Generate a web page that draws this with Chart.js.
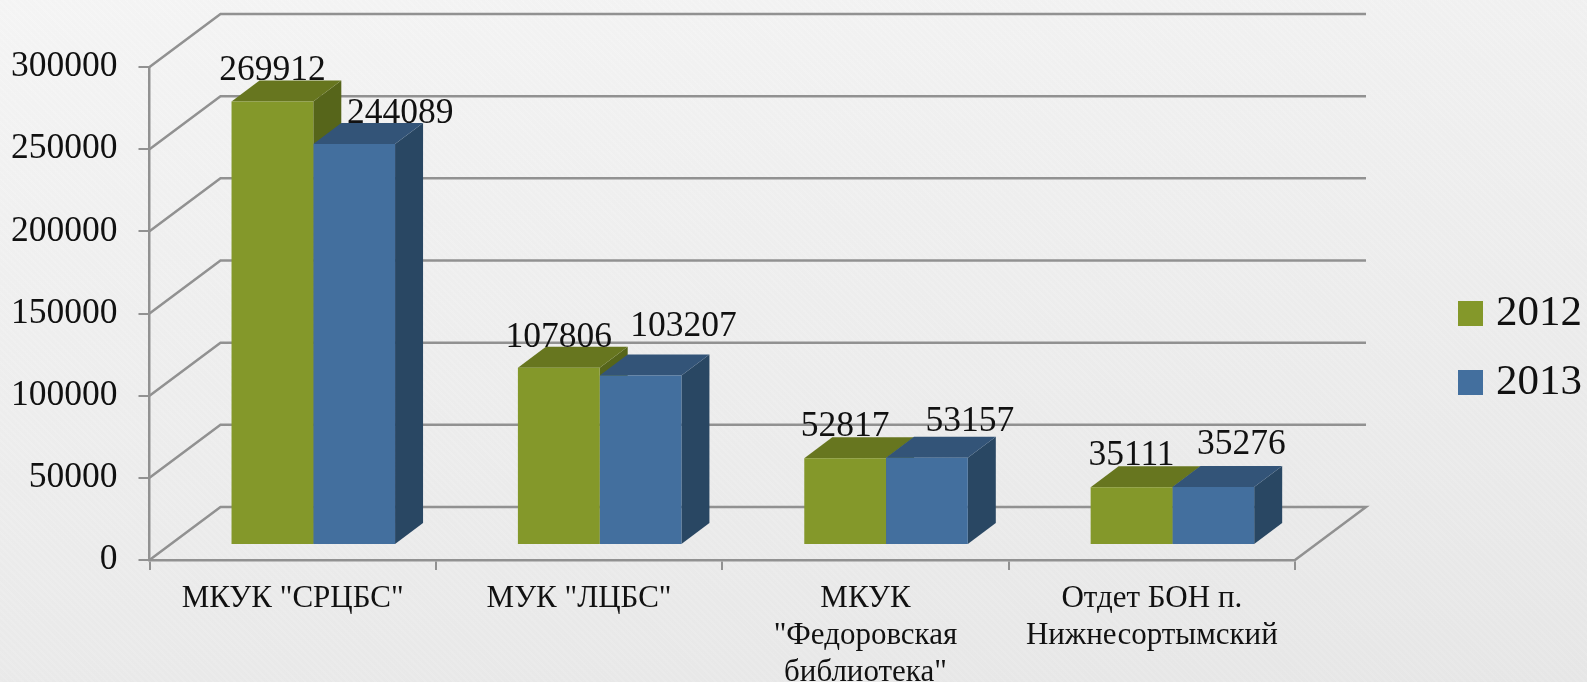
<!DOCTYPE html>
<html lang="en">

<head>
    <meta charset="UTF-8">
    <title>Chart</title>
    <script src="https://cdn.jsdelivr.net/npm/chart.js"></script>
    <style>
        html, body { margin: 0; padding: 0; width: 1587px; height: 682px; overflow: hidden; }
        body {
            background:
                repeating-linear-gradient(45deg, rgba(255,255,255,0.05) 0 2px, rgba(0,0,0,0.004) 2px 5px),
                linear-gradient(172deg, #f5f5f5 0%, #f0f0f0 30%, #ebebeb 70%, #e7e7e7 100%);
        }
        #chart { display: block; }
    </style>
</head>

<body>
    <canvas id="chart" width="1587" height="682"></canvas>

    <script>
        const categories = ['МКУК "СРЦБС"', 'МУК "ЛЦБС"', ['МКУК', '"Федоровская', 'библиотека"'], ['Отдет БОН п.', 'Нижнесортымский']];
        const values2012 = [269912, 107806, 52817, 35111];
        const values2013 = [244089, 103207, 53157, 35276];
        const yMax = 300000;
        const yStep = 50000;

        // the 3D look: how far the back wall and the bar row sit from the front plane
        const wall = { dx: 71, dy: 53 };
        const row = { dx: 20.6, dy: 15 };
        const barDepth = { dx: 28, dy: 21 };

        // value labels were moved by hand in the original, offset from each bar's top centre
        const labelShift2012 = [[0, -21], [0, -21], [0, -22], [0, -22]];
        const labelShift2013 = [[46, -21], [43, -39], [43, -27], [28, -33]];

        const serif = '"Liberation Serif", serif';
        const gridColor = '#919191';

        function poly(ctx, color, pts) {
            ctx.fillStyle = color;
            ctx.beginPath();
            pts.forEach((p, i) => i ? ctx.lineTo(p[0], p[1]) : ctx.moveTo(p[0], p[1]));
            ctx.closePath();
            ctx.fill();
        }

        const box3d = {
            id: 'box3d',
            afterLayout(chart) {
                // put the legend where the original has it
                const legend = chart.legend;
                legend.left = 1432;
                legend.right = 1582;
                legend.top = 266;
                legend.bottom = 560;
            },
            beforeDatasetsDraw(chart) {
                const ctx = chart.ctx;
                const area = chart.chartArea;
                const yScale = chart.scales.y;

                ctx.save();
                ctx.strokeStyle = gridColor;
                ctx.lineWidth = 2.5;
                yScale.ticks.forEach(t => {
                    const y = yScale.getPixelForValue(t.value);
                    ctx.beginPath();
                    ctx.moveTo(area.left, y);
                    ctx.lineTo(area.left + wall.dx, y - wall.dy);
                    ctx.lineTo(area.right + wall.dx, y - wall.dy);
                    if (t.value === 0) ctx.lineTo(area.right, y);
                    ctx.stroke();
                });
                ctx.restore();

                // everything from here to afterDatasetsDraw sits on the bar row
                ctx.save();
                ctx.translate(row.dx, -row.dy);
                chart.data.datasets.forEach((ds, i) => {
                    chart.getDatasetMeta(i).data.forEach(bar => {
                        const l = bar.x - bar.width / 2;
                        const r = bar.x + bar.width / 2;
                        const dx = barDepth.dx;
                        const dy = barDepth.dy;
                        poly(ctx, ds.sideColor, [[r, bar.y], [r + dx, bar.y - dy], [r + dx, bar.base - dy], [r, bar.base]]);
                        poly(ctx, ds.topColor, [[l, bar.y], [l + dx, bar.y - dy], [r + dx, bar.y - dy], [r, bar.y]]);
                    });
                });
            },
            afterDatasetsDraw(chart) {
                const ctx = chart.ctx;
                ctx.fillStyle = '#111';
                ctx.font = '35.5px ' + serif;
                ctx.textAlign = 'center';
                ctx.textBaseline = 'alphabetic';
                chart.data.datasets.forEach((ds, i) => {
                    chart.getDatasetMeta(i).data.forEach((bar, j) => {
                        const shift = ds.labelShift[j];
                        ctx.fillText(ds.data[j], bar.x + shift[0], bar.y + shift[1]);
                    });
                });
                ctx.restore();
            }
        };

        new Chart(document.getElementById('chart'), {
            type: 'bar',
            data: {
                labels: categories,
                datasets: [
                    { label: '2012', data: values2012, backgroundColor: '#84982a', topColor: '#67761f', sideColor: '#56651a', labelShift: labelShift2012 },
                    { label: '2013', data: values2013, backgroundColor: '#436f9e', topColor: '#335478', sideColor: '#294763', labelShift: labelShift2013 }
                ]
            },
            options: {
                responsive: false,
                animation: false,
                layout: { padding: { top: 67, right: 292, left: 0, bottom: 0 } },
                datasets: { bar: { barPercentage: 1, categoryPercentage: 0.571 } },
                plugins: {
                    tooltip: { enabled: false },
                    legend: {
                        position: 'chartArea',
                        align: 'start',
                        labels: {
                            boxWidth: 25,
                            boxHeight: 25,
                            padding: 26,
                            color: '#111',
                            textAlign: 'right',
                            font: { family: serif, size: 43 }
                        }
                    }
                },
                scales: {
                    x: {
                        afterFit(scale) { scale.height = 122; },
                        grid: { offset: true, drawOnChartArea: false, color: gridColor, tickLength: 10, lineWidth: 2 },
                        border: { color: gridColor, width: 2.5 },
                        ticks: {
                            autoSkip: false,
                            maxRotation: 0,
                            color: '#111',
                            padding: 11,
                            font: { family: serif, size: 31, lineHeight: 1.18 }
                        }
                    },
                    y: {
                        min: 0,
                        max: yMax,
                        afterFit(scale) { scale.width = 149.5; },
                        grid: { drawOnChartArea: false, color: gridColor, tickLength: 11, lineWidth: 2 },
                        border: { color: gridColor, width: 2.5 },
                        ticks: {
                            stepSize: yStep,
                            color: '#111',
                            padding: 21,
                            font: { family: serif, size: 35.5 },
                            callback: value => String(value)
                        }
                    }
                }
            },
            plugins: [box3d]
        });
    </script>

</body>

</html>
